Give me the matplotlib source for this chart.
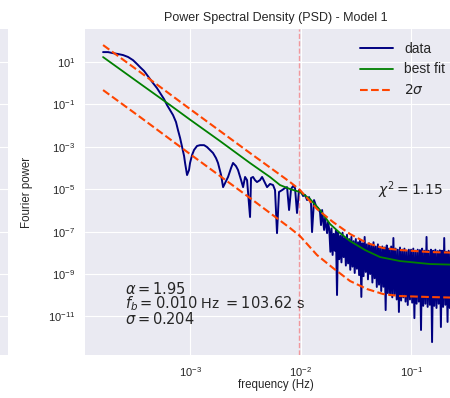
import matplotlib.pyplot as plt
import numpy as np

plt.style.use('seaborn-v0_8-darkgrid')

# periodogram (log10 of frequency in Hz / log10 of power)
low_logf = [-3.787, -3.742, -3.697, -3.652, -3.606, -3.561, -3.516, -3.480, -3.452, -3.416,
            -3.389, -3.362, -3.335, -3.299, -3.271, -3.235, -3.208, -3.181, -3.154, -3.127,
            -3.109, -3.090, -3.072, -3.054, -3.045, -3.027, -3.009, -3.000, -2.982, -2.964,
            -2.937, -2.910, -2.873, -2.846, -2.819, -2.792, -2.765, -2.747, -2.719, -2.701,
            -2.683, -2.656, -2.629, -2.611, -2.584, -2.566, -2.538, -2.520, -2.502, -2.484,
            -2.457, -2.448, -2.430, -2.412, -2.394, -2.367, -2.348, -2.321, -2.303, -2.276,
            -2.249, -2.231, -2.213, -2.195, -2.167, -2.140, -2.122, -2.104, -2.086, -2.068,
            -2.050, -2.032, -2.014, -1.995, -1.977, -1.959, -1.941, -1.923, -1.905, -1.896,
            -1.878, -1.860, -1.842, -1.824, -1.815, -1.805, -1.787, -1.778, -1.760, -1.751]
low_logp = [1.47, 1.47, 1.42, 1.38, 1.33, 1.24, 1.09, 0.91, 0.76, 0.58,
            0.39, 0.20, 0.01, -0.23, -0.46, -0.75, -1.03, -1.26, -1.50, -1.83,
            -2.21, -2.58, -3.01, -3.43, -3.76, -4.33, -4.09, -3.76, -3.39, -3.15,
            -2.96, -2.92, -2.92, -3.01, -3.15, -3.29, -3.53, -3.76, -4.33, -4.90,
            -4.71, -4.42, -4.00, -3.76, -3.91, -4.09, -4.57, -4.90, -4.42, -4.57,
            -6.31, -4.47, -4.42, -4.57, -4.66, -4.57, -4.42, -4.71, -4.90, -4.75,
            -4.80, -5.04, -7.07, -5.13, -5.04, -4.94, -4.90, -5.98, -4.99, -4.85,
            -4.94, -6.12, -5.04, -5.13, -5.32, -5.27, -5.51, -5.37, -5.70, -7.02,
            -5.51, -5.79, -5.89, -6.08, -6.69, -5.98, -6.92, -6.36, -7.07, -6.55]

high_logf = [-1.74, -1.73, -1.72, -1.71, -1.70, -1.69, -1.68, -1.67, -1.66, -1.65,
             -1.64, -1.63, -1.62, -1.61, -1.60, -1.59, -1.58, -1.57, -1.56, -1.55,
             -1.54, -1.53, -1.52, -1.51, -1.50, -1.49, -1.48, -1.47, -1.46, -1.45,
             -1.44, -1.43, -1.42, -1.41, -1.40, -1.39, -1.38, -1.37, -1.36, -1.35,
             -1.34, -1.33, -1.32, -1.31, -1.30, -1.29, -1.28, -1.27, -1.26, -1.25,
             -1.24, -1.23, -1.22, -1.21, -1.20, -1.19, -1.18, -1.17, -1.16, -1.15,
             -1.14, -1.13, -1.12, -1.11, -1.10, -1.09, -1.08, -1.07, -1.06, -1.05,
             -1.04, -1.03, -1.02, -1.01, -1.00, -0.99, -0.98, -0.97, -0.96, -0.95,
             -0.94, -0.93, -0.92, -0.91, -0.90, -0.89, -0.88, -0.87, -0.86, -0.85,
             -0.84, -0.83, -0.82, -0.81, -0.80, -0.79, -0.78, -0.77, -0.76, -0.75,
             -0.74, -0.73, -0.72, -0.71, -0.70, -0.69, -0.68, -0.67, -0.66, -0.65,
             -0.64, -0.63, -0.62, -0.61, -0.60, -0.59, -0.58, -0.57, -0.56, -0.55,
             -0.54, -0.53, -0.52, -0.51, -0.50, -0.49, -0.48, -0.47]
high_logp = [-6.90, -7.95, -6.85, -8.10, -7.10, -7.90, -6.95, -9.99, -7.05, -8.30,
             -7.20, -8.45, -7.05, -8.20, -7.30, -8.60, -7.15, -8.50, -7.35, -8.80,
             -7.25, -8.65, -7.45, -8.95, -7.35, -8.75, -7.50, -9.05, -7.40, -10.08,
             -7.55, -9.10, -7.25, -8.90, -7.60, -9.25, -7.55, -9.00, -7.65, -9.40,
             -7.50, -9.20, -7.70, -9.61, -7.60, -9.50, -7.75, -9.80, -7.70, -9.60,
             -7.75, -10.70, -7.65, -9.90, -7.80, -10.00, -7.70, -10.10, -7.30, -9.95,
             -7.80, -10.20, -7.85, -10.79, -7.75, -10.25, -7.85, -10.10, -7.80, -10.30,
             -7.90, -10.46, -7.85, -10.20, -7.85, -10.35, -7.80, -11.08, -7.90, -10.40,
             -7.85, -10.30, -7.87, -11.64, -7.80, -10.50, -7.90, -10.40, -7.25, -10.55,
             -7.90, -10.45, -7.85, -12.21, -7.90, -10.50, -7.85, -10.60, -7.92, -10.40,
             -7.88, -11.50, -7.90, -10.55, -7.30, -10.45, -7.95, -11.26, -7.90, -10.60,
             -7.92, -10.50, -7.95, -10.70, -7.88, -10.55, -7.95, -10.93, -7.90, -10.50,
             -7.95, -10.60, -7.92, -10.55, -7.95, -10.65, -7.93, -10.60]

# best fit model
fit_logf = [-3.787, -3.452, -3.181, -3.000, -2.729, -2.457, -2.276, -2.186, -2.095, -2.005,
            -1.914, -1.824, -1.733, -1.643, -1.552, -1.416, -1.281, -1.100, -0.828, -0.47]
fit_logp = [1.236, -0.019, -1.028, -1.717, -2.726, -3.764, -4.425, -4.802, -4.991, -5.132,
            -5.462, -5.981, -6.642, -7.066, -7.443, -7.868, -8.198, -8.387, -8.528, -8.58]

# 2 sigma envelope
band_logf = [-3.787, -3.452, -3.000, -2.457, -2.095, -2.005, -1.851, -1.706, -1.552, -1.398,
             -1.253, -1.100, -0.828, -0.47]
upper_logp = [1.802, 0.528, -1.217, -3.292, -4.660, -5.038, -5.934, -6.547, -7.113, -7.538,
              -7.774, -7.868, -7.962, -8.01]
lower_logp = [-0.321, -1.594, -3.340, -5.415, -6.830, -7.208, -8.104, -8.717, -9.330, -9.708,
              -9.943, -10.038, -10.085, -10.13]

alpha = 1.95
f_break = 0.010
t_break = 103.62
sigma = 0.204
chi2 = 1.15

freq = 10 ** np.array(low_logf + high_logf)
power = 10 ** np.array(low_logp + high_logp)

fig = plt.figure(figsize=(4.5, 3.98), dpi=100)
ax = fig.add_axes([0.189, 0.108, 0.849, 0.819])
# right edge of the neighbouring panel
ax_prev = fig.add_axes([-0.5, 0.108, 0.518, 0.819], sharey=ax)

ax.plot(freq, power, color='navy', lw=1.4, label='data')
ax.plot(10 ** np.array(fit_logf), 10 ** np.array(fit_logp), color='green', lw=1.3, label='best fit')
ax.plot(10 ** np.array(band_logf), 10 ** np.array(upper_logp), '--', color='orangered', lw=1.5,
        label=r'$2\sigma$')
ax.plot(10 ** np.array(band_logf), 10 ** np.array(lower_logp), '--', color='orangered', lw=1.5)
ax.axvline(1.0 / t_break, color='red', ls='--', lw=1, alpha=0.35)

ax.set_xscale('log')
ax.set_yscale('log')
ax.set_xlim(10 ** -3.95, 10 ** -0.493)
ax.set_ylim(10 ** -12.82, 10 ** 2.557)
ax.set_yticks([10.0 ** k for k in range(-11, 2, 2)])
ax.minorticks_off()
ax.tick_params(labelsize=8, pad=7)

ax.text(0.105, 0.228,
        r'$\alpha = %.2f$' % alpha + '\n'
        + r'$f_b = %.3f$ Hz $= %.2f$ s' % (f_break, t_break) + '\n'
        + r'$\sigma = %.3f$' % sigma,
        transform=ax.transAxes, va='top', fontsize=10.5, linespacing=0.85)
ax.text(0.767, 0.506, r'$\chi^2 = %.2f$' % chi2, transform=ax.transAxes,
        va='center', fontsize=10)

ax.set_title('Power Spectral Density (PSD) - Model 1', fontsize=9)
ax.set_xlabel('frequency (Hz)', fontsize=8.3, labelpad=0)
ax.set_ylabel('Fourier power', fontsize=8.3, labelpad=11)
ax.legend(loc='upper right', bbox_to_anchor=(0.976, 1.0), fontsize=10,
          handlelength=2.4, frameon=False)

ax_prev.set_xticks([])
ax_prev.tick_params(labelleft=False, labelbottom=False)

plt.savefig('out.png', dpi=100)
